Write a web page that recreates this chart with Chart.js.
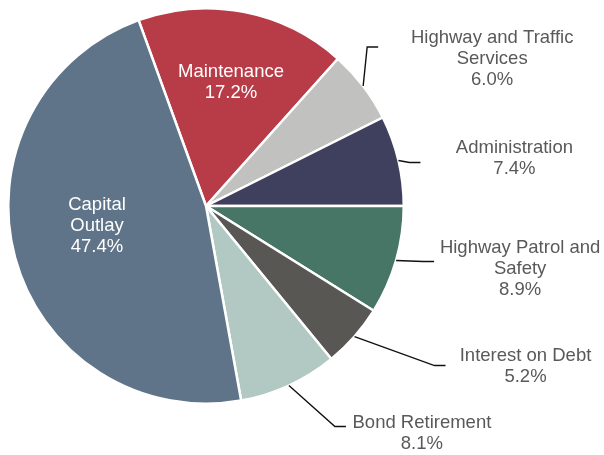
<!DOCTYPE html>
<html>
<head>
<meta charset="utf-8">
<script src="https://cdn.jsdelivr.net/npm/chart.js@4.4.1/dist/chart.umd.min.js"></script>
<style>
  html, body { margin: 0; padding: 0; background: #fff; }
  #wrap { width: 604px; height: 455px; position: relative; }
</style>
</head>
<body>
<div id="wrap"><canvas id="pie-chart"></canvas></div>
<script>
// slice data, clockwise from the Maintenance slice
var categories = ['Maintenance', 'Highway and Traffic Services', 'Administration',
    'Highway Patrol and Safety', 'Interest on Debt', 'Bond Retirement', 'Capital Outlay'];
var shares = [17.2, 6.0, 7.4, 8.9, 5.2, 8.1, 47.4];
// how each label is broken into lines
var labelLines = [
    ['Maintenance'],
    ['Highway and Traffic', 'Services'],
    ['Administration'],
    ['Highway Patrol and', 'Safety'],
    ['Interest on Debt'],
    ['Bond Retirement'],
    ['Capital', 'Outlay']
];
var colors = ['#b83c48', '#c1c2c0', '#3f3f5e', '#477566', '#595754', '#b1c9c2', '#5f7489'];

// label placement:
//  inside  -> text centre offset from the pie centre
//  outside -> [elbowDx, elbowDy] and [textDx, textDy] from the slice's outer edge midpoint
var labelPlace = [
    { inside: [25, -124] },
    { elbow: [4, -39], text: [129, -27] },
    { elbow: [11, 2], text: [116, -2] },
    { elbow: [27, 1], text: [124, 8] },
    { elbow: [80, 29], text: [171, 30] },
    { elbow: [46, 41], text: [133, 48] },
    { inside: [-109, 20] }
];

var total = shares.reduce(function (a, b) { return a + b; }, 0);
// the Administration / Highway Patrol boundary sits at 3 o'clock
var firstAngle = 90 - (shares[0] + shares[1] + shares[2]) / total * 360;

var labelPlugin = {
    id: 'sliceLabels',
    afterDatasetsDraw: function (chart) {
        var ctx = chart.ctx;
        var arcs = chart.getDatasetMeta(0).data;
        ctx.save();
        ctx.font = '18.5px "Liberation Sans", Arial, sans-serif';
        ctx.textAlign = 'center';
        ctx.textBaseline = 'middle';
        arcs.forEach(function (arc, i) {
            var p = arc.getProps(['x', 'y', 'startAngle', 'endAngle', 'outerRadius'], true);
            var mid = (p.startAngle + p.endAngle) / 2;
            var lines = labelLines[i].concat([shares[i].toFixed(1) + '%']);
            var place = labelPlace[i];
            var cx, cy;
            if (place.inside) {
                cx = p.x + place.inside[0];
                cy = p.y + place.inside[1];
                ctx.fillStyle = '#ffffff';
            } else {
                var ex = p.x + Math.cos(mid) * p.outerRadius;
                var ey = p.y + Math.sin(mid) * p.outerRadius;
                ctx.strokeStyle = '#111111';
                ctx.lineWidth = 1.4;
                ctx.beginPath();
                ctx.moveTo(ex, ey);
                ctx.lineTo(ex + place.elbow[0], ey + place.elbow[1]);
                ctx.lineTo(ex + place.elbow[0] + 11, ey + place.elbow[1]);
                ctx.stroke();
                cx = ex + place.text[0];
                cy = ey + place.text[1];
                ctx.fillStyle = '#595959';
            }
            var lh = 21;
            var top = cy - (lines.length - 1) * lh / 2;
            lines.forEach(function (t, k) {
                ctx.fillText(t, cx, top + k * lh);
            });
        });
        ctx.restore();
    }
};

var pieChart = new Chart(document.getElementById('pie-chart'), {
    type: 'pie',
    data: {
        labels: categories,
        datasets: [{
            data: shares,
            backgroundColor: colors,
            borderColor: '#ffffff',
            borderWidth: 2.5
        }]
    },
    options: {
        responsive: true,
        maintainAspectRatio: false,
        animation: false,
        rotation: firstAngle,
        layout: { padding: { left: 7, top: 7, right: 199, bottom: 50 } },
        plugins: {
            legend: { display: false },
            tooltip: { enabled: false }
        }
    },
    plugins: [labelPlugin]
});
</script>
</body>
</html>
